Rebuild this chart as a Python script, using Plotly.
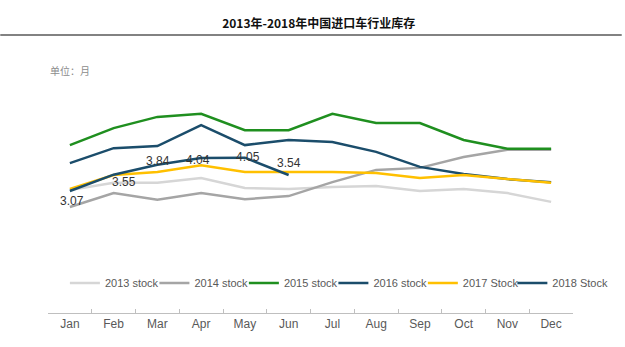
import plotly.graph_objects as go

months = ["Jan", "Feb", "Mar", "Apr", "May", "Jun",
          "Jul", "Aug", "Sep", "Oct", "Nov", "Dec"]

stock_2013 = [3.10, 3.31, 3.31, 3.45, 3.16, 3.13, 3.19, 3.22, 3.07, 3.13, 3.01, 2.75]
stock_2014 = [2.60, 3.01, 2.81, 3.01, 2.83, 2.92, 3.33, 3.69, 3.75, 4.07, 4.28, 4.28]
stock_2015 = [4.42, 4.92, 5.25, 5.34, 4.86, 4.86, 5.34, 5.07, 5.07, 4.57, 4.31, 4.31]
stock_2016 = [3.89, 4.33, 4.39, 5.01, 4.42, 4.57, 4.51, 4.22, 3.78, 3.57, 3.42, 3.33]
stock_2017 = [3.13, 3.54, 3.63, 3.83, 3.63, 3.63, 3.63, 3.60, 3.45, 3.54, 3.42, 3.31]
stock_2018 = [3.07, 3.55, 3.84, 4.04, 4.05, 3.54]

series = [
    ("2013 stock", stock_2013, "#d6d6d6"),
    ("2014 stock", stock_2014, "#a5a5a5"),
    ("2015 stock", stock_2015, "#1f8f1f"),
    ("2016 stock", stock_2016, "#1b4d6b"),
    ("2017 Stock", stock_2017, "#ffc000"),
    ("2018 Stock", stock_2018, "#1b4d6b"),
]

# left edge (paper x) of each single-entry legend box, laid out in one row
legend_x = [0.0322, 0.2027, 0.3731, 0.5436, 0.7140, 0.8845]

fig = go.Figure()
layout_legends = {}
for i, ((name, vals, color), lx) in enumerate(zip(series, legend_x)):
    key = "legend" if i == 0 else f"legend{i + 1}"
    fig.add_trace(go.Scatter(
        x=months[:len(vals)], y=vals, name=name, mode="lines",
        line=dict(color=color, width=2.5),
        hoverinfo="skip", legend=key,
    ))
    layout_legends[key] = dict(
        orientation="h", x=lx, xanchor="left", y=0.11, yanchor="middle",
        font=dict(family="Liberation Sans, Arial", size=11, color="#595959"),
        bgcolor="rgba(0,0,0,0)", itemwidth=30,
    )

# value labels on the 2018 series
label_shift = [(2, -10), (10, -7), (1, 4), (-3, -2), (3, 1), (0, 12)]
for m, v, (dx, dy) in zip(months, stock_2018, label_shift):
    fig.add_annotation(
        x=m, y=v, text=f"{v:.2f}", showarrow=False,
        xshift=dx, yshift=dy,
        font=dict(family="Liberation Sans, Arial", size=12, color="#333333"),
    )

fig.add_annotation(
    xref="paper", yref="paper", x=0.0, y=0.89,
    xanchor="left", yanchor="middle", showarrow=False,
    text="单位：月",
    font=dict(family="Noto Sans CJK SC", size=10, color="#8c8c8c"),
)

# rule under the title
fig.add_shape(
    type="line", xref="paper", yref="paper",
    x0=-48 / 528, x1=577 / 528, y0=1.018, y1=1.018,
    line=dict(color="#595959", width=1.5),
)

fig.update_layout(
    width=625, height=347,
    margin=dict(l=48, r=49, t=40, b=34),
    paper_bgcolor="white", plot_bgcolor="white",
    title=dict(
        text="<b>2013年-2018年中国进口车行业库存</b>",
        x=0.51, xanchor="center", y=0.93, yanchor="middle",
        font=dict(family="Noto Sans CJK SC", size=12, color="#111111"),
    ),
    showlegend=True,
    xaxis=dict(
        type="category", categoryorder="array", categoryarray=months,
        range=[-0.5, 11.5], showgrid=False, zeroline=False,
        showline=True, linecolor="#bfbfbf", linewidth=1,
        ticks="inside", ticklen=4, tickcolor="#bfbfbf",
        tickson="boundaries",
        tickfont=dict(family="Liberation Sans, Arial", size=12, color="#595959"),
    ),
    yaxis=dict(
        range=[-0.518, 7.511], visible=False, showgrid=False, zeroline=False,
    ),
    **layout_legends,
)

fig.write_html("out.html")
